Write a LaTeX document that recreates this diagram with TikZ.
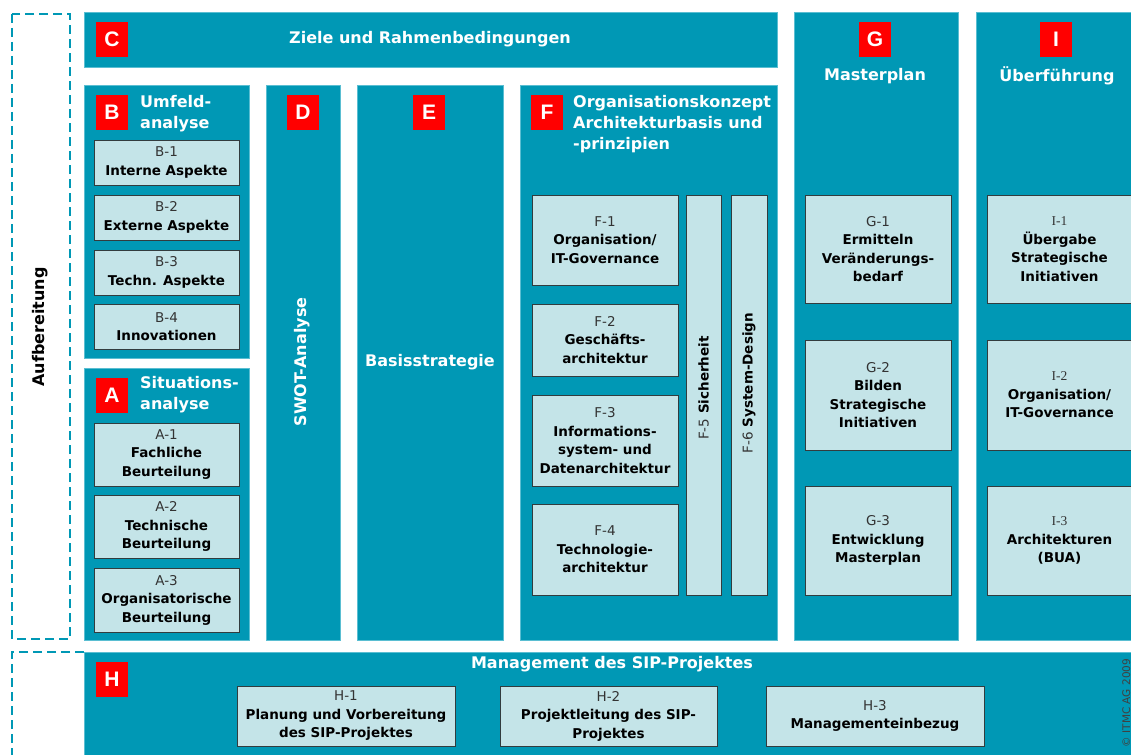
\documentclass[tikz,border=0pt]{standalone}
\usepackage{fontspec}
\setmainfont{DejaVu Sans}
\newfontfamily\tagfont{Liberation Sans}
\newfontfamily\ifont{Liberation Serif}
\definecolor{sipteal}{RGB}{0,152,181}
\definecolor{sipedge}{RGB}{90,190,210}
\definecolor{subfill}{RGB}{196,228,232}
\definecolor{subline}{RGB}{50,60,62}
\definecolor{tagred}{RGB}{255,0,0}
\newcommand\sipsub{\fontsize{13.5}{18.5}\selectfont}
\newcommand\siptitle{\fontsize{16}{21}\selectfont\bfseries}
\newcommand\lbl[1]{{\mdseries\color{black!80}#1}}
\begin{document}
\begin{tikzpicture}[x=1pt,y=-1pt,
  panel/.style={fill=sipteal,draw=sipedge,line width=0.5pt},
  sub/.style={draw=subline,fill=subfill,line width=0.9pt,inner sep=0pt,
    align=center,font=\sipsub\bfseries,text=black},
  tag/.style={fill=tagred,minimum width=32pt,minimum height=35pt,inner sep=0pt,
    text=white,font=\tagfont\bfseries\fontsize{21}{21}\selectfont},
  title/.style={text=white,font=\siptitle,inner sep=0pt},
  dashframe/.style={draw=sipteal,line width=2.4pt,dash pattern=on 9pt off 5pt}
]
\useasboundingbox (0,0) rectangle (1131,754);
\clip (0,0) rectangle (1131,754);

% dashed frames on the left
\draw[dashframe] (12,14) rectangle (70,639);
\draw[dashframe] (84,652) -- (12,652) -- (12,760);
\node[rotate=90,font=\fontsize{16}{16}\selectfont\bfseries,text=black] (aufb) at (40,327) {Aufbereitung};

% main panels
\path[panel] (84,12) rectangle (777,67);
\path[panel] (84,85) rectangle (249,358);
\path[panel] (84,368) rectangle (249,640);
\path[panel] (266,85) rectangle (340,640);
\path[panel] (357,85) rectangle (503,640);
\path[panel] (520,85) rectangle (777,640);
\path[panel] (794,12) rectangle (958,640);
\path[panel] (976,12) rectangle (1140,640);
\path[panel] (84,652) rectangle (1140,760);

% letter tags
\node[tag] (tagC) at (112,39.5) {C};
\node[tag] (tagB) at (112,112.5) {B};
\node[tag] (tagA) at (112,395) {A};
\node[tag] (tagD) at (303,112.5) {D};
\node[tag] (tagE) at (429,112.5) {E};
\node[tag] (tagF) at (547,112.5) {F};
\node[tag] (tagG) at (875,39.5) {G};
\node[tag] (tagI) at (1056,39.5) {I};
\node[tag] (tagH) at (112,679.5) {H};

% panel titles
\node[title] (tC) at (430,39) {Ziele und Rahmenbedingungen};
\node[title,anchor=west,align=left] (tB) at (140,113.5) {Umfeld-\\analyse};
\node[title,anchor=west,align=left] (tA) at (140,395) {Situations-\\analyse};
\node[title,rotate=90] (tD) at (302,362) {SWOT-Analyse};
\node[title] (tE) at (430,362) {Basisstrategie};
\node[title,anchor=west,align=left] (tF) at (573,124.5) {Organisationskonzept\\Architekturbasis und\\-prinzipien};
\node[title] (tG) at (875,76) {Masterplan};
\node[title] (tI) at (1057,76) {Überführung};
\node[title] (tH) at (612,664) {Management des SIP-Projektes};

% B: Umfeldanalyse
\node[sub,minimum width=145pt,minimum height=45pt] (b1) at (166.5,162.5) {\lbl{B-1}\\Interne Aspekte};
\node[sub,minimum width=145pt,minimum height=45pt] (b2) at (166.5,217.5) {\lbl{B-2}\\Externe Aspekte};
\node[sub,minimum width=145pt,minimum height=45pt] (b3) at (166.5,272.5) {\lbl{B-3}\\Techn. Aspekte};
\node[sub,minimum width=145pt,minimum height=45pt] (b4) at (166.5,326.5) {\lbl{B-4}\\Innovationen};

% A: Situationsanalyse
\node[sub,minimum width=145pt,minimum height=63pt] (a1) at (166.5,454.5) {\lbl{A-1}\\Fachliche\\Beurteilung};
\node[sub,minimum width=145pt,minimum height=63pt] (a2) at (166.5,526.5) {\lbl{A-2}\\Technische\\Beurteilung};
\node[sub,minimum width=145pt,minimum height=64pt] (a3) at (166.5,600) {\lbl{A-3}\\Organisatorische\\Beurteilung};

% F: Organisationskonzept
\node[sub,minimum width=146pt,minimum height=90pt] (f1) at (605,240) {\lbl{F-1}\\Organisation/\\IT-Governance};
\node[sub,minimum width=146pt,minimum height=72pt] (f2) at (605,340) {\lbl{F-2}\\Geschäfts-\\architektur};
\node[sub,minimum width=146pt,minimum height=91pt] (f3) at (605,440.5) {\lbl{F-3}\\Informations-\\system- und\\Datenarchitektur};
\node[sub,minimum width=146pt,minimum height=91pt] (f4) at (605,549.5) {\lbl{F-4}\\Technologie-\\architektur};
\node[sub,minimum width=35pt,minimum height=400pt] (f5) at (703.5,395) {};
\node[sub,minimum width=36pt,minimum height=400pt] (f6) at (749,395) {};
\node[rotate=90,font=\sipsub\bfseries,inner sep=0pt] (f5t) at (703.5,388) {\lbl{F-5} Sicherheit};
\node[rotate=90,font=\sipsub\bfseries,inner sep=0pt] (f6t) at (749,383) {\lbl{F-6} System-Design};

% G: Masterplan
\node[sub,minimum width=146pt,minimum height=108pt] (g1) at (878,249) {\lbl{G-1}\\Ermitteln\\Veränderungs-\\bedarf};
\node[sub,minimum width=146pt,minimum height=110pt] (g2) at (878,395) {\lbl{G-2}\\Bilden\\Strategische\\Initiativen};
\node[sub,minimum width=146pt,minimum height=109pt] (g3) at (878,540.5) {\lbl{G-3}\\Entwicklung\\Masterplan};

% I: Ueberfuehrung
\node[sub,minimum width=145pt,minimum height=108pt] (i1) at (1059.5,249) {{\ifont\mdseries\color{black!80}I-1}\\Übergabe\\Strategische\\Initiativen};
\node[sub,minimum width=145pt,minimum height=110pt] (i2) at (1059.5,395) {{\ifont\mdseries\color{black!80}I-2}\\Organisation/\\IT-Governance};
\node[sub,minimum width=145pt,minimum height=109pt] (i3) at (1059.5,540.5) {{\ifont\mdseries\color{black!80}I-3}\\Architekturen\\(BUA)};

% H: Projektmanagement
\node[sub,minimum width=218pt,minimum height=60pt] (h1) at (346,716) {\lbl{H-1}\\Planung und Vorbereitung\\des SIP-Projektes};
\node[sub,minimum width=217pt,minimum height=60pt] (h2) at (608.5,716) {\lbl{H-2}\\Projektleitung des SIP-\\Projektes};
\node[sub,minimum width=218pt,minimum height=60pt] (h3) at (875,716) {\lbl{H-3}\\Managementeinbezug};

% copyright note
\node[rotate=90,anchor=base,font=\fontsize{10.5}{10.5}\selectfont,text=black!75,inner sep=0pt] (copy) at (1130,703) {© ITMC AG 2009};
\end{tikzpicture}
\end{document}
